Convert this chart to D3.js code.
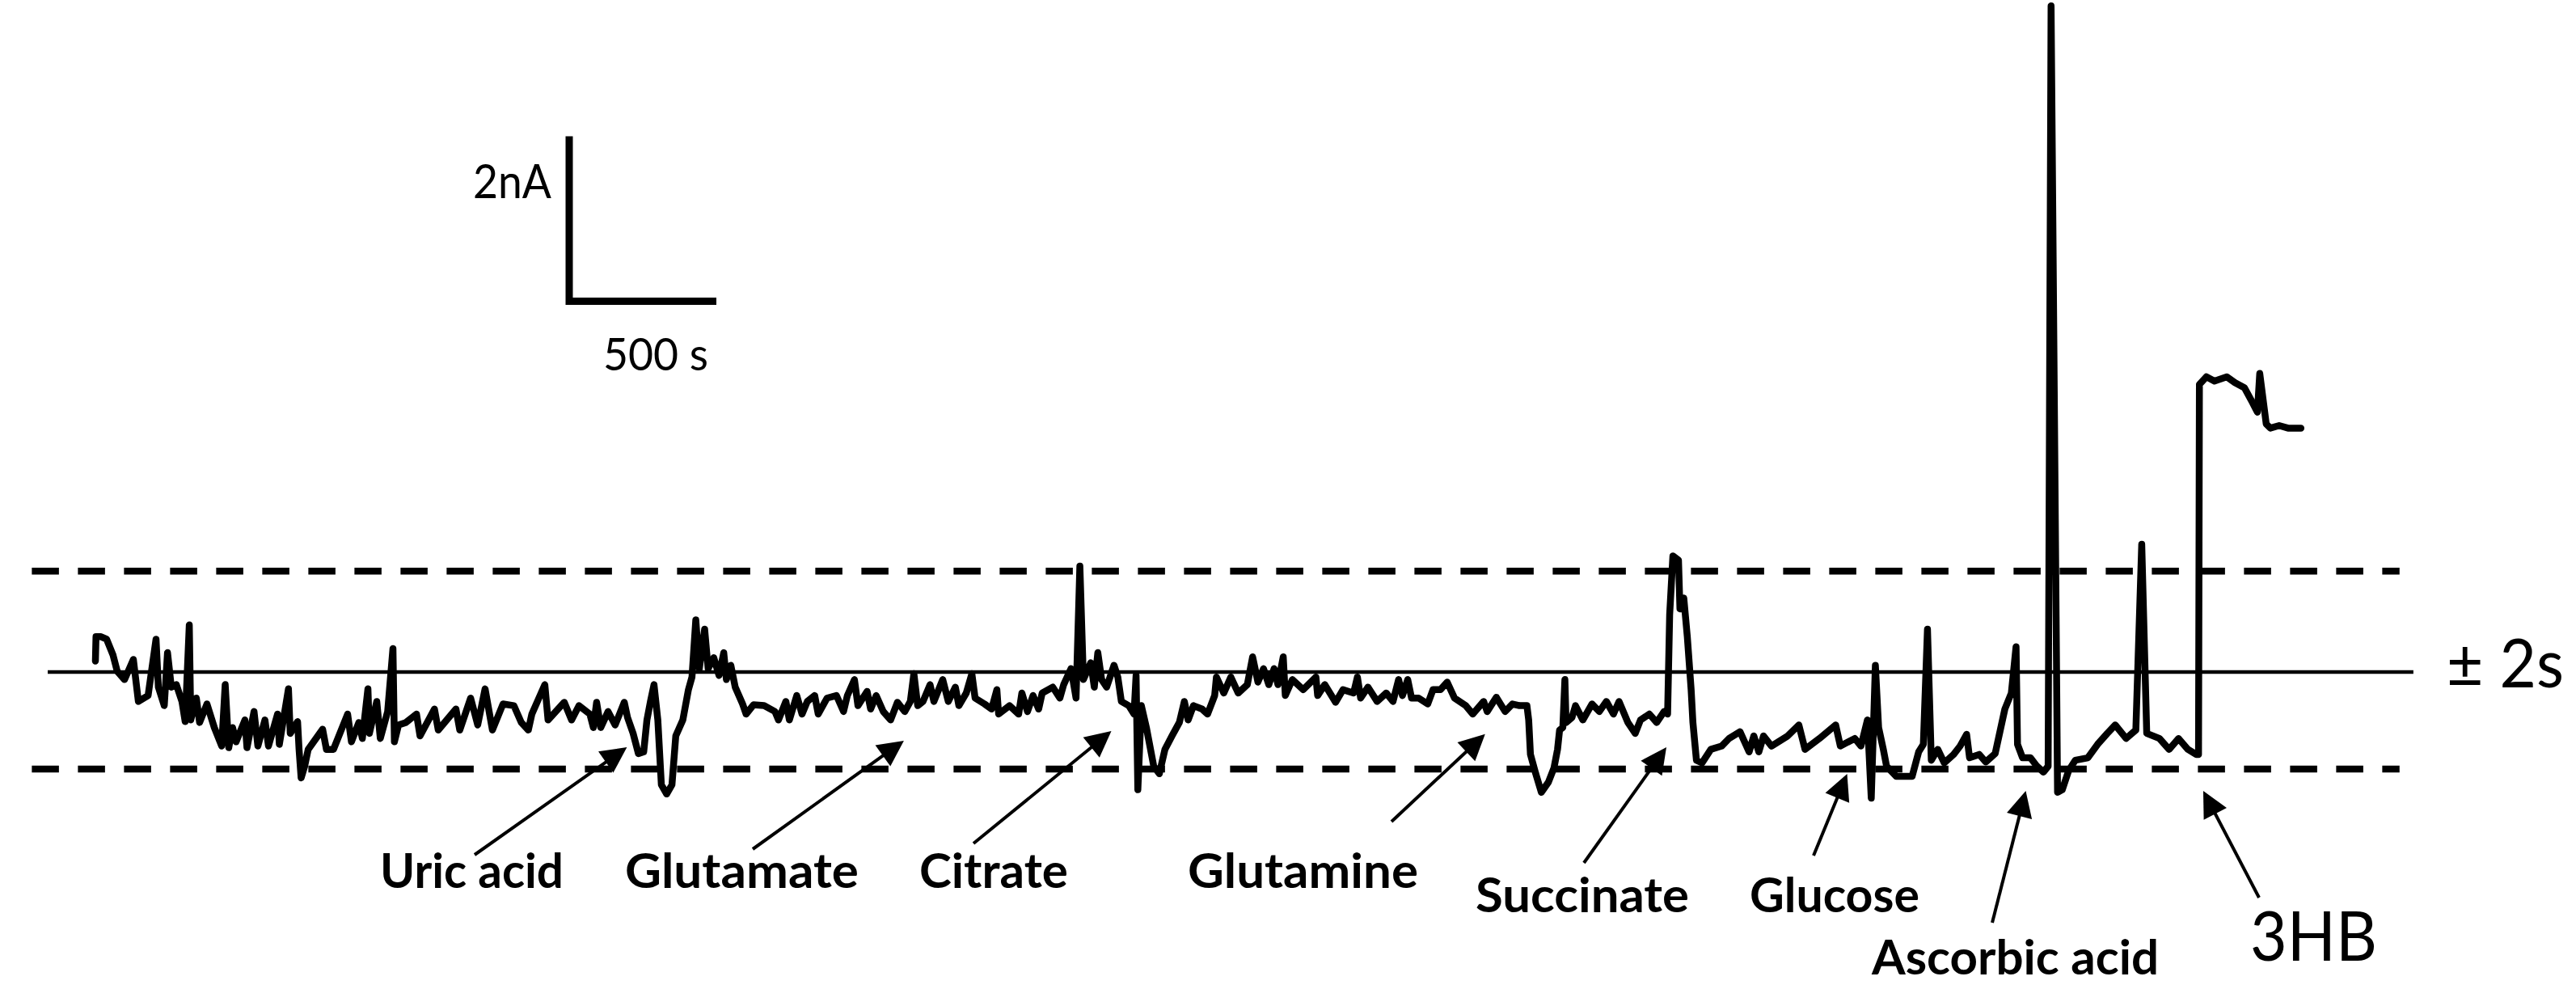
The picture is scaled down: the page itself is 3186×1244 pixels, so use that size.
<!DOCTYPE html>
<html><head><meta charset="utf-8">
<script src="https://cdn.jsdelivr.net/npm/d3@7"></script>
<style>html,body{margin:0;padding:0;background:#fff;} svg{display:block;}</style>
</head><body>
<svg id="chart" width="3186" height="1244"></svg>
<script>
// ---- DATA (time in s, current in nA relative to baseline mean) ----
const timeS = [0,2,19,38,60,74,99,129,146,179,206,214,234,245,258,275,294,305,319,324,343,354,379,404,429,441,453,466,478,508,515,539,552,576,588,619,625,656,662,687,692,699,711,723,772,785,809,857,870,895,907,926,931,956,968,993,1011,1016,1030,1055,1091,1103,1152,1165,1225,1238,1275,1299,1324,1349,1385,1422,1447,1471,1483,1527,1538,1593,1618,1643,1680,1692,1703,1717,1742,1766,1797,1808,1827,1845,1863,1874,1886,1898,1911,1923,1941,1959,1972,1996,2015,2027,2040,2052,2070,2082,2101,2119,2135,2144,2159,2174,2199,2211,2236,2272,2309,2321,2346,2358,2383,2401,2419,2444,2456,2486,2518,2542,2555,2579,2591,2622,2634,2653,2677,2702,2725,2750,2769,2781,2794,2812,2836,2849,2879,2898,2922,2934,2959,2978,2989,3021,3045,3063,3069,3106,3137,3148,3167,3186,3205,3217,3253,3277,3290,3315,3332,3345,3357,3382,3394,3406,3419,3436,3461,3474,3486,3511,3529,3536,3542,3554,3571,3596,3615,3634,3658,3683,3700,3713,3731,3760,3779,3803,3809,3834,3858,3883,3914,3932,3950,3969,3987,4005,4018,4036,4043,4067,4104,4147,4153,4177,4214,4239,4275,4288,4299,4324,4355,4386,4409,4428,4441,4459,4472,4496,4527,4545,4570,4593,4618,4656,4680,4717,4729,4760,4790,4815,4839,4864,4870,4876,4894,4913,4937,4956,4968,4975,4986,4993,4997,5017,5029,5054,5085,5110,5134,5158,5177,5207,5232,5250,5280,5305,5330,5342,5349,5360,5379,5384,5397,5409,5422,5428,5440,5459,5489,5526,5551,5588,5619,5635,5652,5668,5695,5750,5788,5809,5858,5913,5929,5978,5999,6021,6034,6048,6059,6075,6086,6119,6173,6195,6211,6225,6238,6260,6282,6314,6336,6358,6368,6401,6423,6455,6488,6510,6526,6531,6548,6575,6597,6619,6635,6645,6667,6683,6705,6727,6770,6803,6836,6863,6900,6933,6953,6970,7013,7046,7078,7110,7138,7146,7149,7173,7200,7242,7270,7302,7330,7346,7354,7376,7390,7420,7450,7494];
const currentNA = [0.13,0.42,0.42,0.39,0.20,0.01,-0.09,0.15,-0.35,-0.28,0.39,-0.18,-0.40,0.23,-0.18,-0.15,-0.35,-0.59,0.56,-0.57,-0.31,-0.60,-0.38,-0.66,-0.88,-0.15,-0.90,-0.66,-0.83,-0.57,-0.90,-0.47,-0.88,-0.57,-0.88,-0.50,-0.86,-0.20,-0.73,-0.59,-0.92,-1.26,-1.12,-0.92,-0.68,-0.92,-0.92,-0.50,-0.83,-0.60,-0.79,-0.20,-0.73,-0.35,-0.79,-0.47,0.28,-0.83,-0.63,-0.60,-0.50,-0.76,-0.44,-0.69,-0.44,-0.69,-0.31,-0.63,-0.20,-0.69,-0.38,-0.40,-0.60,-0.69,-0.50,-0.15,-0.57,-0.36,-0.57,-0.40,-0.50,-0.66,-0.36,-0.66,-0.47,-0.63,-0.36,-0.54,-0.73,-0.97,-0.95,-0.57,-0.35,-0.15,-0.57,-1.34,-1.45,-1.34,-0.76,-0.57,-0.21,-0.06,0.62,0.04,0.51,0.04,0.17,-0.04,0.23,-0.09,0.08,-0.18,-0.38,-0.50,-0.39,-0.40,-0.47,-0.57,-0.35,-0.57,-0.28,-0.50,-0.35,-0.28,-0.50,-0.31,-0.28,-0.47,-0.28,-0.09,-0.40,-0.23,-0.44,-0.28,-0.47,-0.57,-0.36,-0.47,-0.35,-0.02,-0.40,-0.35,-0.15,-0.35,-0.09,-0.35,-0.18,-0.40,-0.25,-0.02,-0.31,-0.38,-0.44,-0.21,-0.50,-0.40,-0.50,-0.25,-0.47,-0.28,-0.44,-0.25,-0.18,-0.31,-0.15,0.04,-0.31,1.26,-0.09,0.11,-0.18,0.23,-0.09,-0.18,0.08,-0.06,-0.35,-0.40,-0.50,-0.04,-1.40,-0.40,-0.66,-1.12,-1.21,-0.92,-0.76,-0.60,-0.35,-0.57,-0.40,-0.44,-0.50,-0.28,-0.06,-0.25,-0.06,-0.25,-0.15,0.18,-0.12,0.04,-0.15,0.04,-0.15,0.18,-0.28,-0.09,-0.21,-0.06,-0.28,-0.15,-0.36,-0.21,-0.25,-0.06,-0.31,-0.18,-0.35,-0.25,-0.35,-0.09,-0.28,-0.09,-0.31,-0.31,-0.38,-0.21,-0.21,-0.12,-0.31,-0.40,-0.50,-0.35,-0.47,-0.30,-0.47,-0.38,-0.40,-0.40,-0.57,-0.98,-1.21,-1.43,-1.31,-1.14,-0.92,-0.69,-0.66,-0.09,-0.60,-0.54,-0.40,-0.57,-0.38,-0.47,-0.35,-0.50,-0.35,-0.60,-0.73,-0.57,-0.50,-0.60,-0.47,-0.50,0.68,1.38,1.33,0.75,0.88,0.42,-0.21,-0.60,-1.05,-1.08,-0.92,-0.88,-0.79,-0.71,-0.95,-0.76,-0.95,-0.76,-0.88,-0.76,-0.63,-0.92,-0.79,-0.63,-0.88,-0.79,-0.88,-0.57,-1.50,0.08,-0.66,-0.92,-1.12,-1.24,-1.24,-0.95,-0.86,0.51,-1.05,-0.92,-1.08,-0.98,-0.88,-0.74,-1.02,-0.98,-1.07,-0.97,-0.44,-0.25,0.30,-0.86,-1.02,-1.02,-1.12,-1.19,-1.12,7.92,-1.43,-1.40,-1.17,-1.05,-1.02,-0.86,-0.73,-0.63,-0.79,-0.69,1.52,-0.73,-0.79,-0.92,-0.79,-0.92,-0.98,-0.98,3.42,3.51,3.46,3.51,3.44,3.38,3.20,3.09,3.55,2.95,2.90,2.93,2.90,2.90];

// reference levels (nA) and their horizontal extent (s)
const meanLevel = 0;
const upperLimit = 1.20;
const lowerLimit = -1.155;
const meanExtent = [-162, 7876];
const limitExtent = [-216, 7829];
const limitLabel = "\u00B1 2s";

// injections
const analytes = ["Uric acid","Glutamate","Citrate","Glutamine","Succinate","Glucose","Ascorbic acid","3HB"];
const arrowTipTime = [1806,2747,3452,4722,5338,5952,6559,7162];
const arrowTipCurrent = [-0.894,-0.817,-0.702,-0.738,-0.894,-1.212,-1.413,-1.413];

// scale bar
const scaleBarCurrent = 2;     // nA
const scaleBarTime = 500;      // s
const scaleBarLabels = ["2nA","500 s"];

// ---- LAYOUT ----
const svg = d3.select("#chart");
const x = d3.scaleLinear().domain([0, 7500]).range([118, 118 + 7500 * 0.364]);
const y = d3.scaleLinear().domain([0, 1]).range([831, 727]);
const FONT = "Lato, 'Open Sans', sans-serif";

// reference lines
svg.append("line")
  .attr("x1", x(meanExtent[0])).attr("x2", x(meanExtent[1]))
  .attr("y1", y(meanLevel)).attr("y2", y(meanLevel))
  .attr("stroke", "#000").attr("stroke-width", 4.5);
[upperLimit, lowerLimit].forEach(v => {
  svg.append("line")
    .attr("x1", x(limitExtent[0])).attr("x2", x(limitExtent[1]))
    .attr("y1", y(v)).attr("y2", y(v))
    .attr("stroke", "#000").attr("stroke-width", 8.5)
    .attr("stroke-dasharray", "33.5,23.5");
});
svg.append("text")
  .attr("x", 3026).attr("y", 850)
  .attr("font-family", FONT)
  .attr("font-size", 84)
  .attr("textLength", 145).attr("lengthAdjust", "spacingAndGlyphs")
  .text(limitLabel);

// trace
const pts = timeS.map((t, i) => [t, currentNA[i]]);
svg.append("path")
  .datum(pts)
  .attr("fill", "none").attr("stroke", "#000")
  .attr("stroke-width", 8.5).attr("stroke-linejoin", "round").attr("stroke-linecap", "round")
  .attr("d", d3.line().x(d => x(d[0])).y(d => y(d[1])));

// scale bar
const cx = 704, cy = 372.5;
const vLen = y(0) - y(scaleBarCurrent);
const hLen = x(scaleBarTime) - x(0);
svg.append("path")
  .attr("d", `M${cx},${cy - vLen + 4}L${cx},${cy}L${cx + hLen},${cy}`)
  .attr("fill", "none").attr("stroke", "#000").attr("stroke-width", 9)
  .attr("stroke-linejoin", "miter");
svg.append("text").attr("x", 585).attr("y", 245)
  .attr("font-family", FONT).attr("font-size", 58)
  .attr("textLength", 97).attr("lengthAdjust", "spacingAndGlyphs")
  .text(scaleBarLabels[0]);
svg.append("text").attr("x", 746).attr("y", 458)
  .attr("font-family", FONT).attr("font-size", 56)
  .attr("textLength", 130).attr("lengthAdjust", "spacingAndGlyphs")
  .text(scaleBarLabels[1]);

// annotation layout (px): arrow tail, label left, baseline, width, size, weight
const annLayout = [
  {tail:[587,1057], lx:470, by:1098, w:227, fs:60, fw:700},
  {tail:[931,1050], lx:773, by:1098, w:289, fs:60, fw:700},
  {tail:[1204,1043], lx:1137, by:1098, w:184, fs:60, fw:700},
  {tail:[1721,1016], lx:1469, by:1098, w:285, fs:60, fw:700},
  {tail:[1959,1067], lx:1825, by:1128, w:264, fs:60, fw:700},
  {tail:[2243,1058], lx:2164, by:1128, w:210, fs:60, fw:700},
  {tail:[2464,1141], lx:2315, by:1205, w:355, fs:60, fw:700},
  {tail:[2794,1110], lx:2783, by:1188, w:157, fs:86, fw:400}
];
const headLen = 32, headHalf = 16;
analytes.forEach((name, i) => {
  const L = annLayout[i];
  const tx = x(arrowTipTime[i]), ty = y(arrowTipCurrent[i]);
  const dx = tx - L.tail[0], dy = ty - L.tail[1];
  const len = Math.hypot(dx, dy), ux = dx / len, uy = dy / len;
  const bx = tx - ux * headLen, by = ty - uy * headLen;
  svg.append("line")
    .attr("x1", L.tail[0]).attr("y1", L.tail[1]).attr("x2", bx + ux * 2).attr("y2", by + uy * 2)
    .attr("stroke", "#000").attr("stroke-width", 4);
  svg.append("path")
    .attr("d", `M${tx},${ty}L${bx - uy * headHalf},${by + ux * headHalf}L${bx + uy * headHalf},${by - ux * headHalf}Z`)
    .attr("fill", "#000");
  svg.append("text")
    .attr("x", L.lx).attr("y", L.by)
    .attr("font-family", FONT)
    .attr("font-size", L.fs).attr("font-weight", L.fw)
    .attr("textLength", L.w).attr("lengthAdjust", "spacingAndGlyphs")
    .text(name);
});
</script>
</body></html>
